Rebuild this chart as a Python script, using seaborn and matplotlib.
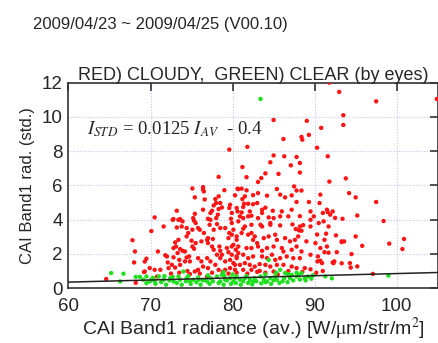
import matplotlib
matplotlib.use("Agg")
import matplotlib.pyplot as plt
import numpy as np
import pandas as pd
import seaborn as sns

# Cloudy scenes (red): average radiance vs. standard deviation
red_x = [
    91.8, 93.0, 97.5, 104.9, 93.5, 93.5, 85.0, 89.05, 90.8, 88.4, 88.5, 89.3, 86.2, 81.8, 90.3, 79.6,
    85.0, 86.3, 87.8, 91.6, 84.6, 87.1, 88.2, 81.2, 78.3, 84.0, 85.6, 88.2, 81.7, 83.5, 83.1, 93.8, 91.8,
    75.1, 76.4, 76.4, 76.5, 79.0, 78.3, 77.9, 75.4, 76.6, 80.7, 82.5, 85.4, 87.5, 87.8, 88.4, 94.2,
    80.6, 81.1, 81.7, 81.5, 81.2, 80.3, 83.1, 84.2, 85.8, 86.4, 87.2, 87.8, 89.3, 90.7, 90.6, 95.0, 97.5,
    78.0, 77.7, 78.5, 78.7, 78.3, 78.2, 77.5, 79.7, 79.6, 79.9, 80.6, 73.2, 75.4, 70.5, 75.2, 77.0, 73.6,
    72.8, 78.0, 76.4, 77.3, 81.4, 81.3, 81.9, 80.5, 82.5, 83.0, 82.1, 81.1, 83.6, 83.6, 84.0, 84.9, 86.0,
    87.2, 86.8, 88.2, 89.5, 91.0, 91.5, 91.9, 82.3, 81.3, 85.0, 83.1, 91.6, 92.2, 92.5, 93.4, 95.2, 80.9,
    81.9, 84.4, 85.8, 89.9, 89.5, 72.7, 73.4, 73.9, 75.3, 77.3, 79.8, 80.7, 75.5,
    98.4, 88.6, 81.5, 82.3, 83.4, 84.6, 85.8, 87.3, 87.7, 88.1, 90.3, 91.4, 92.6, 93.3, 95.0, 95.8, 99.1,
    100.9, 100.7, 77.2, 78.1, 79.9, 70.1, 71.6, 73.2, 73.8, 75.1, 75.8, 77.7, 78.5, 79.1, 79.6, 80.1, 74.4,
    74.6, 76.0, 76.5, 77.0, 90.5, 91.1, 91.7, 81.3, 83.6, 84.6, 88.2, 88.4, 89.5, 79.9, 80.5, 81.1, 81.9,
    82.3, 82.7, 82.5, 83.0, 83.8, 84.4, 85.2, 85.4, 86.4, 87.0, 87.6, 88.0, 89.0, 90.1, 91.2, 93.3, 93.6,
    74.4, 75.0, 75.5, 76.2, 76.9, 77.6, 79.5, 80.5, 67.8, 68.1, 73.4, 73.0, 72.8, 73.1, 73.6, 73.9, 75.1,
    75.3, 77.0, 77.5, 77.7, 78.4, 78.5, 79.3, 79.5, 79.9, 80.4, 80.7, 70.9, 73.3, 74.2, 80.1, 80.7, 81.7,
    82.3, 83.1, 83.6, 84.2, 85.0, 86.0, 86.2, 87.2, 87.8, 88.4, 90.7, 91.5, 91.2, 91.7, 92.7, 94.5,
    78.7, 78.1, 71.8, 72.0, 69.5, 69.3, 72.8, 73.5, 74.4, 74.7, 74.8, 74.2, 73.6, 72.6, 72.2, 73.0, 75.8,
    76.2, 76.9, 77.3, 76.4, 77.0, 77.9, 78.5, 79.1, 79.7, 80.3, 80.5, 69.9, 70.5, 71.2, 69.3, 75.8, 75.4,
    79.1, 79.7, 78.3, 68.0, 72.1, 79.9, 80.5, 81.3, 81.9, 82.5, 83.6, 84.2, 84.8, 85.2, 85.8, 86.6, 87.4,
    88.2, 89.5, 90.4, 80.1, 80.9, 81.5, 82.1, 82.7, 83.3, 84.0, 84.6, 85.4, 86.2, 87.2, 87.8, 88.8, 80.3,
    81.3, 82.3, 83.3, 85.0, 95.2, 92.3, 93.3, 94.3, 90.35, 90.9, 90.7, 92.2, 92.4, 94.4,
    97.1, 70.8, 76.9, 74.8, 64.6, 68.2, 69.2, 80.5, 81.8, 83.0, 84.0, 85.5, 86.8, 88.5, 89.5, 90.2, 91.0,
    72.5, 73.5, 74.5, 76.0, 77.5, 78.8, 79.5,
]
red_y = [
    12.0, 11.46, 10.91, 11.05, 10.1, 9.53, 9.82, 9.77, 9.36, 8.83, 8.67, 8.95, 8.71, 8.25, 8.2, 8.09,
    7.75, 7.7, 7.66, 7.7, 7.35, 7.17, 7.31, 7.07, 6.5, 6.7, 6.67, 6.75, 6.48, 6.43, 6.2, 6.41, 6.22,
    5.82, 5.9, 5.77, 5.65, 5.72, 5.36, 5.2, 5.3, 5.18, 5.78, 5.43, 5.79, 5.94, 5.7, 5.7, 5.55,
    5.81, 5.81, 5.71, 5.36, 5.2, 5.42, 5.55, 5.4, 5.46, 5.3, 5.42, 5.03, 5.03, 5.46, 4.97, 5.3, 5.03,
    4.97, 4.83, 4.97, 4.71, 4.62, 4.29, 4.52, 4.87, 4.68, 4.39, 4.48, 4.52, 4.34, 4.13, 4.09, 4.05, 4.03,
    4.03, 4.09, 4.58, 4.39, 4.93, 4.74, 4.93, 4.68, 4.9, 4.97, 4.48, 4.42, 4.58, 4.39, 4.7, 4.52, 4.48,
    4.58, 4.19, 4.2, 4.48, 4.39, 4.58, 4.29, 4.23, 4.09, 4.09, 4.09, 4.44, 4.48, 4.1, 4.05, 4.24, 4.19,
    4.19, 4.13, 4.19, 4.19, 3.99, 3.99, 3.99, 3.9, 3.94, 3.99, 4.05, 3.9, 3.8,
    3.92, 3.68, 3.6, 3.7, 3.7, 3.7, 3.66, 3.72, 3.45, 3.37, 3.13, 3.18, 3.08, 2.73, 3.02, 2.47, 2.6,
    2.87, 2.28, 3.7, 3.74, 3.8, 3.33, 3.6, 3.54, 3.6, 3.41, 3.51, 3.41, 3.51, 3.51, 3.22, 3.41, 3.51,
    3.22, 3.41, 3.22, 2.92, 3.8, 3.9, 3.6, 3.47, 3.6, 3.8, 3.6, 3.35, 3.6, 3.12, 3.02, 3.22, 3.12,
    3.22, 3.02, 2.82, 2.63, 2.92, 3.02, 3.12, 2.82, 2.92, 2.73, 2.82, 3.02, 2.73, 2.63, 2.82, 2.69, 2.73,
    3.02, 2.77, 2.63, 2.73, 2.82, 2.87, 2.92, 2.82, 2.8, 2.14, 2.82, 2.67, 2.34, 2.43, 2.28, 2.18, 2.43,
    2.3, 2.63, 2.43, 2.24, 2.43, 2.18, 2.34, 2.1, 2.43, 2.24, 2.05, 2.14, 2.05, 2.14, 2.53, 2.43, 2.34,
    2.34, 2.43, 2.18, 2.34, 2.43, 2.34, 2.14, 2.24, 2.43, 2.14, 2.34, 2.43, 2.1, 2.07, 2.1, 1.99,
    1.95, 1.95, 1.92, 1.85, 1.72, 1.55, 1.8, 1.65, 1.79, 1.85, 1.56, 1.56, 1.36, 1.36, 1.17, 1.2, 1.75,
    1.56, 1.75, 1.56, 1.26, 1.17, 1.36, 1.75, 1.56, 1.65, 1.36, 1.75, 1.17, 1.07, 1.07, 0.97, 1.07, 0.97,
    1.07, 1.17, 1.07, 1.5, 1.5, 1.95, 1.85, 1.95, 1.75, 1.85, 1.85, 1.75, 1.95, 1.65, 1.75, 1.85, 1.75,
    1.75, 1.95, 1.85, 1.46, 1.36, 1.46, 1.36, 1.26, 1.4, 1.36, 1.26, 1.36, 1.36, 1.26, 1.17, 1.17, 1.07,
    1.07, 1.07, 1.01, 0.97, 1.27, 1.46, 1.45, 1.46, 1.56, 1.46, 1.6, 1.5, 1.56, 1.2,
    0.83, 0.68, 0.68, 0.82, 0.53, 0.31, 0.94, 0.9, 0.85, 0.95, 0.9, 0.8, 1.0, 0.95, 1.1, 0.9, 1.0,
    0.85, 0.9, 1.0, 0.85, 0.9, 0.95, 0.85,
]

# Clear scenes (green)
green_x = [
    83.4, 92.1, 99.0, 65.2, 66.7, 66.3, 68.2, 68.7, 69.5, 69.9, 91.3,
    74.0, 73.4, 71.0, 71.6, 72.4, 72.8, 73.6, 74.4, 75.2, 75.8, 76.4, 77.3, 78.1, 78.7, 78.9, 79.1, 79.7,
    80.5, 69.5, 69.1, 70.1, 70.5, 74.8, 76.9, 78.5, 80.1,
    84.4, 85.8, 86.4, 87.2, 88.0, 88.4, 83.4, 82.7, 82.1, 81.5, 80.9, 80.3, 83.8, 84.6, 85.2, 85.4, 86.3,
    87.0, 87.8, 88.8, 89.2, 82.5, 84.2,
    70.6, 71.3, 71.9, 72.3, 73.2, 73.8, 74.3, 74.9, 75.6, 76.1, 76.7, 77.2, 77.6, 78.3, 78.9, 79.3, 79.8,
    80.4, 81.0, 81.3, 81.9, 82.4, 82.9, 83.5, 84.0, 84.7, 85.0, 85.7, 86.1, 86.7, 87.4, 88.2, 88.9, 89.6,
    70.3, 71.7, 72.7, 74.6, 75.9, 77.0, 79.0, 80.0, 81.7, 84.0, 85.3, 86.8, 87.8, 89.8,
]
green_y = [
    11.05, 0.57, 0.73, 0.88, 0.84, 0.39, 0.66, 0.66, 0.29, 0.39, 0.68,
    0.97, 0.68, 0.68, 0.49, 0.58, 0.39, 0.49, 0.58, 0.49, 0.62, 0.45, 0.58, 0.68, 0.78, 0.94, 0.49, 0.58,
    0.68, 0.68, 0.49, 0.49, 0.43, 0.39, 0.39, 0.39, 0.39,
    1.65, 1.07, 0.88, 0.78, 0.78, 0.88, 0.68, 0.58, 0.49, 0.58, 0.49, 0.58, 0.49, 0.58, 0.68, 0.49, 0.58,
    0.58, 0.68, 0.58, 0.68, 0.39, 0.39,
    0.25, 0.35, 0.2, 0.45, 0.3, 0.2, 0.4, 0.25, 0.35, 0.2, 0.5, 0.25, 0.4, 0.3, 0.2, 0.45, 0.25,
    0.3, 0.2, 0.4, 0.3, 0.22, 0.4, 0.28, 0.35, 0.25, 0.45, 0.3, 0.4, 0.35, 0.45, 0.5, 0.45, 0.55,
    0.6, 0.7, 0.65, 0.7, 0.5, 0.75, 0.7, 0.8, 0.7, 0.8, 0.9, 0.8, 0.9, 0.75,
]

# Fitted noise line: I_STD = slope * I_AV + intercept
slope = 0.0125
intercept = -0.4
fit_x = [60, 105]

df = pd.concat([
    pd.DataFrame({"av": red_x, "std": red_y, "sky": "cloudy"}),
    pd.DataFrame({"av": green_x, "std": green_y, "sky": "clear"}),
], ignore_index=True)

sns.set_style("white")
plt.rcParams["font.family"] = ["Liberation Sans", "DejaVu Sans"]
plt.rcParams["mathtext.fontset"] = "stix"

fig = plt.figure(figsize=(4.39, 3.43), dpi=100)
ax = fig.add_axes([0.156, 0.160, 0.841, 0.599])

sns.scatterplot(data=df, x="av", y="std", hue="sky",
                palette={"cloudy": "#ff1414", "clear": "#1fe01f"},
                hue_order=["cloudy", "clear"],
                s=10, linewidth=0, legend=False, ax=ax, zorder=3)

fit_y = [slope * v + intercept for v in fit_x]
ax.plot(fit_x, fit_y, color="#222222", lw=1.1, zorder=4)

ax.set_xlim(60, 105)
ax.set_ylim(0, 12)
ax.set_xticks([60, 70, 80, 90, 100])
ax.set_yticks([0, 2, 4, 6, 8, 10, 12])
ax.grid(True, color="#c4c4ee", linestyle=(0, (1, 1.5)), linewidth=0.8, zorder=0)
ax.tick_params(direction="in", length=6, width=1.2, top=True, right=True,
               color="#333333", labelsize=13.5)
ax.tick_params(axis="x", pad=7)
ax.tick_params(axis="y", pad=4)
for sp in ax.spines.values():
    sp.set_color("#333333")
    sp.set_linewidth(1.2)

ax.set_xlabel("CAI Band1 radiance (av.) [W/$\\mathrm{\\mu}$m/str/m$^2$]", fontsize=14, labelpad=1)
ax.set_ylabel("CAI Band1 rad. (std.)", fontsize=12, labelpad=5)
ax.set_title("RED) CLOUDY,  GREEN) CLEAR (by eyes)", fontsize=13, pad=2)

ax.text(62.2, 9.3, "$I_{STD}$ = 0.0125 $I_{AV}$  - 0.4", fontsize=13.5,
        family="Liberation Serif", va="center", ha="left", zorder=5)

fig.text(33 / 439, 1 - 24 / 343, "2009/04/23 ~ 2009/04/25 (V00.10)",
         fontsize=12, ha="left", va="center")

fig.savefig("out.png", dpi=100)
